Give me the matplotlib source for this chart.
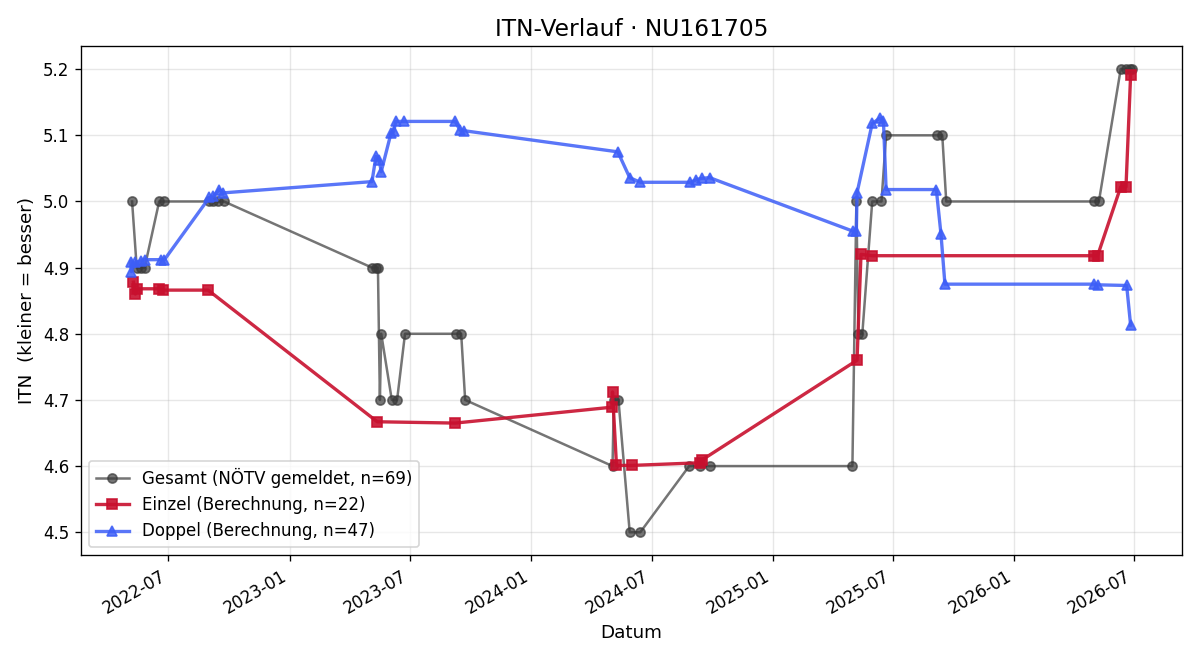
import pandas as pd
import matplotlib.pyplot as plt
import matplotlib.dates as mdates

# Gesamt (NÖTV gemeldet)
gesamt_dates = [
    '2022-05-07', '2022-05-14', '2022-05-21', '2022-05-26', '2022-06-17', '2022-06-25',
    '2022-09-01', '2022-09-07', '2022-09-14', '2022-09-23',
    '2023-05-05', '2023-05-11', '2023-05-14', '2023-05-17', '2023-05-19', '2023-06-04',
    '2023-06-12', '2023-06-24', '2023-09-09', '2023-09-17', '2023-09-23',
    '2024-05-03', '2024-05-05', '2024-05-12', '2024-05-29', '2024-06-14',
    '2024-08-27', '2024-09-12', '2024-09-28',
    '2025-05-01', '2025-05-07', '2025-05-10', '2025-05-16', '2025-05-31', '2025-06-14',
    '2025-06-21', '2025-09-06', '2025-09-14', '2025-09-20',
    '2026-05-01', '2026-05-09', '2026-06-11', '2026-06-19', '2026-06-25', '2026-06-28',
]
gesamt_values = [
    5.0, 4.9, 4.9, 4.9, 5.0, 5.0,
    5.0, 5.0, 5.0, 5.0,
    4.9, 4.9, 4.9, 4.7, 4.8, 4.7,
    4.7, 4.8, 4.8, 4.8, 4.7,
    4.6, 4.7, 4.7, 4.5, 4.5,
    4.6, 4.6, 4.6,
    4.6, 5.0, 4.8, 4.8, 5.0, 5.0,
    5.1, 5.1, 5.1, 5.0,
    5.0, 5.0, 5.2, 5.2, 5.2, 5.2,
]

# Einzel (Berechnung)
einzel_dates = [
    '2022-05-09', '2022-05-12', '2022-05-15', '2022-06-16', '2022-06-23', '2022-08-30',
    '2023-05-13', '2023-09-08',
    '2024-05-02', '2024-05-03', '2024-05-09', '2024-06-01', '2024-09-12', '2024-09-15',
    '2025-05-08', '2025-05-14', '2025-05-31',
    '2026-05-01', '2026-05-07', '2026-06-11', '2026-06-19', '2026-06-26',
]
einzel_values = [
    4.878, 4.860, 4.868, 4.868, 4.866, 4.866,
    4.667, 4.665,
    4.689, 4.712, 4.601, 4.601, 4.605, 4.609,
    4.760, 4.920, 4.918,
    4.918, 4.918, 5.022, 5.022, 5.191,
]

# Doppel (Berechnung)
doppel_dates = [
    '2022-05-05', '2022-05-06', '2022-05-12', '2022-05-20', '2022-05-26', '2022-06-19',
    '2022-06-25', '2022-09-01', '2022-09-07', '2022-09-16', '2022-09-22',
    '2023-05-05', '2023-05-11', '2023-05-16', '2023-05-19', '2023-06-03', '2023-06-07',
    '2023-06-10', '2023-06-22', '2023-09-08', '2023-09-15', '2023-09-21',
    '2024-05-11', '2024-05-29', '2024-06-14', '2024-08-29', '2024-09-07', '2024-09-15',
    '2024-09-27',
    '2025-05-02', '2025-05-07', '2025-05-08', '2025-05-31', '2025-06-12', '2025-06-17',
    '2025-06-21', '2025-09-05', '2025-09-12', '2025-09-18',
    '2026-05-01', '2026-05-07', '2026-06-20', '2026-06-26',
]
doppel_values = [
    4.909, 4.894, 4.908, 4.910, 4.912, 4.912,
    4.912, 5.006, 5.008, 5.018, 5.013,
    5.030, 5.068, 5.062, 5.045, 5.104, 5.106,
    5.121, 5.121, 5.121, 5.108, 5.107,
    5.075, 5.036, 5.029, 5.029, 5.033, 5.035,
    5.036,
    4.955, 4.956, 5.013, 5.118, 5.126, 5.121,
    5.018, 5.018, 4.951, 4.875,
    4.875, 4.874, 4.873, 4.813,
]


def create_chart():
    fig, ax = plt.subplots(figsize=(10, 5.5), dpi=120)

    ax.plot(pd.to_datetime(gesamt_dates), gesamt_values, marker='o', color='#3a3a3a',
            linewidth=1.5, markersize=5.5, alpha=0.7,
            label='Gesamt (NÖTV gemeldet, n=69)')
    ax.plot(pd.to_datetime(einzel_dates), einzel_values, marker='s', color='#c8102e',
            linewidth=2, markersize=6, alpha=0.9,
            label='Einzel (Berechnung, n=22)')
    ax.plot(pd.to_datetime(doppel_dates), doppel_values, marker='^', color='#3d5ef7',
            linewidth=2, markersize=6, alpha=0.85,
            label='Doppel (Berechnung, n=47)')

    ax.set_title('ITN-Verlauf · NU161705', fontsize=14)
    ax.set_xlabel('Datum', fontsize=11)
    ax.set_ylabel('ITN  (kleiner = besser)', fontsize=11)
    ax.grid(True, alpha=0.3)

    ax.xaxis.set_major_locator(mdates.MonthLocator(bymonth=[1, 7]))
    ax.xaxis.set_major_formatter(mdates.DateFormatter('%Y-%m'))
    fig.autofmt_xdate()

    ax.legend(loc='lower left')
    fig.tight_layout()
    fig.savefig('out.png')


if __name__ == "__main__":
    create_chart()
